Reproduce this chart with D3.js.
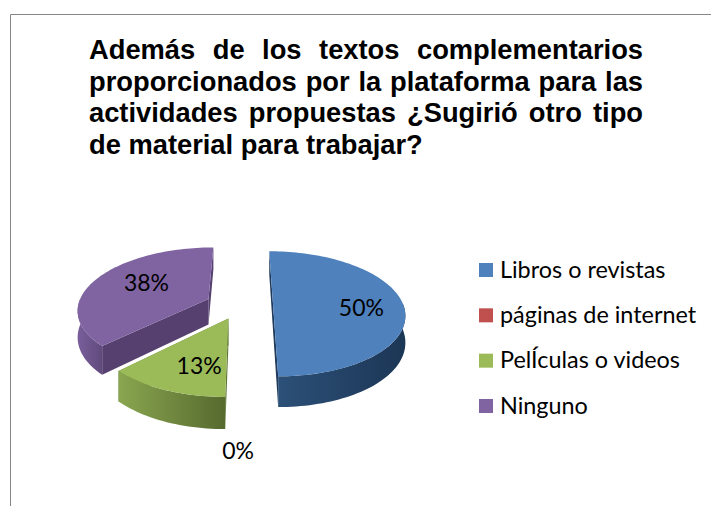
<!DOCTYPE html>
<html>
<head>
<meta charset="utf-8">
<script src="https://cdnjs.cloudflare.com/ajax/libs/d3/7.8.5/d3.min.js"></script>
<style>
html, body { margin: 0; padding: 0; background: #fff; }
svg { display: block; }
</style>
</head>
<body>
<script>
var categories = ["Libros o revistas", "páginas de internet", "PelÍculas o videos", "Ninguno"];
var values = [50, 0, 12.5, 37.5];
var percentLabels = ["50%", "0%", "13%", "38%"];
var titleLines = [
    "Además de los textos complementarios",
    "proporcionados por la plataforma para las",
    "actividades propuestas ¿Sugirió otro tipo",
    "de material para trabajar?"
];

var colors = ["#4f81bd", "#c0504d", "#9bbb59", "#8064a2"];
var wallLight = ["#2c5078", "#8c3836", "#8aa650", "#7a5f9c"];
var wallDark = ["#1c3655", "#642725", "#566a2e", "#5f4a7c"];
var cutColors = ["#1f3a5c", "#642725", "#5f7534", "#55406f"];

var width = 711,
    height = 506;

// perspective settings of the tilted pie
var vx = 245,
    vy = 304,
    radius = 130,
    ry = 61,
    persp = 0.156,
    depth = 26;

// how far each slice is pulled out, in pie units
var explode = [
    { x: 28, z: 0 },
    { x: -5, z: 0 },
    { x: -16, z: -30 },
    { x: -37, z: 11 }
];
var labelRadius = [0.68, 1.74, 0.5, 0.55];
var labelDy = [12, 9, 23, 4];

var svg = d3.select("body")
    .append("svg")
    .attr("width", width)
    .attr("height", height);

var defs = svg.append("defs");

// frame of the chart, cut off by the picture on the right and bottom
svg.append("path")
    .attr("d", "M10.5 506 L10.5 14.5 L711 14.5")
    .attr("fill", "none")
    .attr("stroke", "#868686")
    .attr("stroke-width", 1);

//title, justified by hand
var title = svg.append("g")
    .style("font-family", "'Liberation Sans', Arial, sans-serif")
    .style("font-weight", "700")
    .style("font-size", "27.3px")
    .attr("fill", "#000");
var titleLeft = 89,
    titleRight = 643;
titleLines.forEach(function (line, i) {
    var t = title.append("text")
        .attr("x", titleLeft)
        .attr("y", 59 + i * 31.6)
        .text(line);
    if (i < titleLines.length - 1) {
        var gaps = line.split(" ").length - 1;
        var extra = (titleRight - titleLeft - t.node().getComputedTextLength()) / gaps;
        t.style("word-spacing", extra + "px");
    }
});

var project = function (slice, a, r) {
    var off = explode[slice];
    var X = off.x + radius * r * Math.sin(a);
    var Z = off.z / radius + r * Math.cos(a);
    var s = 1 / (1 + persp * Z);
    return { x: vx + X * s, y: vy - ry * Z * s, s: s };
};

var line = d3.line().x(function (d) { return d.x; }).y(function (d) { return d.y; });
var drop = function (p) { return { x: p.x, y: p.y + depth * p.s }; };

var pie = d3.pie().sort(null).value(function (d) { return d; });
var arcs = pie(values);

var arcPoints = function (d, from, to) {
    var n = Math.max(2, Math.ceil((to - from) / 0.03));
    return d3.range(n + 1).map(function (k) {
        return project(d.index, from + (to - from) * k / n, 1);
    });
};

// purple sits behind blue, green goes last
var order = [3, 0, 2];
order.forEach(function (idx) {
    var d = arcs[idx];
    var g = svg.append("g");
    var rim = arcPoints(d, d.startAngle, d.endAngle);
    var apex = project(idx, 0, 0);

    //the two straight cuts
    [rim[0], rim[rim.length - 1]].forEach(function (p) {
        g.append("path")
            .attr("d", line([apex, p, drop(p), drop(apex)]) + "Z")
            .attr("fill", cutColors[idx]);
    });

    //only the front part of the rim shows a wall
    var front = arcPoints(d, Math.max(d.startAngle, Math.PI / 2), Math.min(d.endAngle, 3 * Math.PI / 2));
    var gradId = "wall" + idx;
    var grad = defs.append("linearGradient")
        .attr("id", gradId)
        .attr("gradientUnits", "userSpaceOnUse")
        .attr("x1", d3.min(front, function (p) { return p.x; }))
        .attr("x2", d3.max(front, function (p) { return p.x; }))
        .attr("y1", 0)
        .attr("y2", 0);
    grad.append("stop").attr("offset", "0%").attr("stop-color", wallLight[idx]);
    grad.append("stop").attr("offset", "100%").attr("stop-color", wallDark[idx]);

    g.append("path")
        .attr("d", line(front.concat(front.slice().reverse().map(drop))) + "Z")
        .attr("fill", "url(#" + gradId + ")");

    //top of the slice
    g.append("path")
        .attr("d", line([apex].concat(rim)) + "Z")
        .attr("fill", colors[idx]);
});

//percent labels
svg.append("g")
    .selectAll("text")
    .data(arcs)
    .enter()
    .append("text")
    .attr("text-anchor", "middle")
    .style("font-family", "Lato, 'Open Sans', sans-serif")
    .style("font-size", "23px")
    .attr("fill", "#000")
    .attr("x", function (d) { return project(d.index, (d.startAngle + d.endAngle) / 2, labelRadius[d.index]).x; })
    .attr("y", function (d) { return project(d.index, (d.startAngle + d.endAngle) / 2, labelRadius[d.index]).y + labelDy[d.index]; })
    .text(function (d) { return percentLabels[d.index]; });

//legend
var legendY = d3.scalePoint().domain(categories).range([270, 406]);
var legend = svg.append("g")
    .selectAll("g")
    .data(categories)
    .enter()
    .append("g")
    .attr("transform", function (d) { return "translate(479," + legendY(d) + ")"; });
legend.append("rect")
    .attr("x", 0)
    .attr("y", -7)
    .attr("width", 14)
    .attr("height", 14)
    .attr("fill", function (d, i) { return colors[i]; });
legend.append("text")
    .attr("x", 21)
    .attr("y", 7.5)
    .style("font-family", "Lato, 'Open Sans', sans-serif")
    .style("font-size", "23.4px")
    .attr("fill", "#000")
    .text(function (d) { return d; });
</script>
</body>
</html>
